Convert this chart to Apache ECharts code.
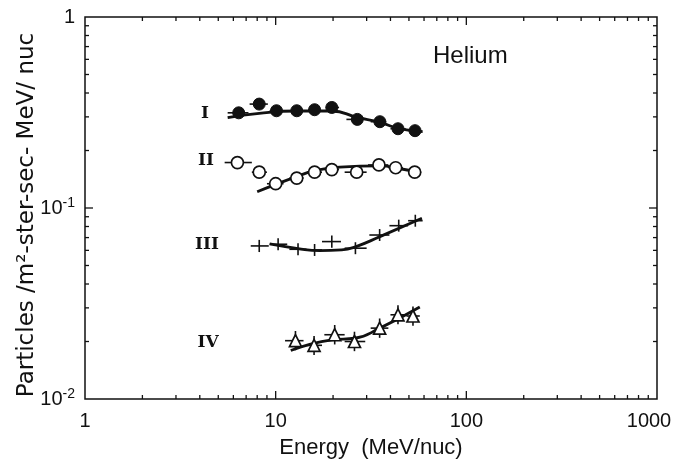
<!DOCTYPE html>
<html><head><meta charset="utf-8">
<script src="https://cdn.jsdelivr.net/npm/echarts@6/dist/echarts.min.js"></script>
<style>html,body{margin:0;padding:0;background:#fff}#c{width:675px;height:460px}</style>
</head><body><div id="c"></div>
<script>
// ---------- data ----------
const xTickValues = [1, 10, 100, 1000];
const xTickLabels = ['1', '10', '100', '{r|1000}'];
const yTickValues = [0.01, 0.1, 1];
const yTickLabels = ['10{s|-2}', '10{s|-1}', '1'];
const xMajorTicks = [10, 100];
const xMinorTicks = [2,3,4,5,6,7,8,9,20,30,40,50,60,70,80,90,200,300,400,500,600,700,800,900];
const yMajorTicks = [0.1];
const yMinorTicks = [0.02,0.03,0.04,0.05,0.06,0.07,0.08,0.09,0.2,0.3,0.4,0.5,0.6,0.7,0.8,0.9];

// Series I (filled circles)
const eI   = [6.4, 8.2, 10.1, 12.9, 16.0, 19.7, 26.8, 35.2, 43.8, 53.8];
const vI   = [0.315, 0.350, 0.323, 0.323, 0.327, 0.336, 0.291, 0.283, 0.260, 0.254];
const eIlo = [5.6, 7.3, 9.3, 12.0, 14.8, 18.3, 23.5, 31.5, 40.0, 50.0];
const eIhi = [7.2, 9.1, 11.0, 13.9, 17.2, 21.5, 30.0, 38.0, 48.0, 58.0];
const fitIE = [5.6, 8.2, 12.9, 19.7, 26.8, 35.2, 43.8, 59];
const fitIV = [0.297, 0.313, 0.322, 0.322, 0.298, 0.281, 0.261, 0.251];

// Series II (open circles)
const eII   = [6.3, 8.2, 10.0, 12.9, 16.0, 19.7, 26.6, 34.8, 42.6, 53.6];
const vII   = [0.173, 0.154, 0.134, 0.1435, 0.154, 0.159, 0.154, 0.168, 0.1625, 0.154];
const eIIlo = [5.4, 7.5, 9.0, 11.8, 14.6, 18.0, 23.0, 30.5, 39.0, 49.5];
const eIIhi = [7.5, 9.0, 11.0, 14.0, 17.5, 21.5, 30.0, 39.0, 46.5, 58.0];
const fitIIE = [8.0, 10.1, 12.9, 16.0, 21.7, 35.2, 45, 57];
const fitIIV = [0.1217, 0.1334, 0.146, 0.1567, 0.1638, 0.166, 0.1605, 0.153];

// Series III (crosses)
const eIII   = [8.2, 10.3, 13.1, 16.0, 19.7, 26.2, 35.1, 44.2, 54.0];
const vIII   = [0.0633, 0.0646, 0.0608, 0.0603, 0.0667, 0.0616, 0.0722, 0.0808, 0.0858];
const eIIIlo = [7.4, 9.3, 11.8, 14.8, 17.5, 23.0, 31.0, 39.5, 49.5];
const eIIIhi = [9.2, 11.5, 14.5, 17.5, 22.0, 30.0, 39.5, 49.5, 59.0];
const vIIIlo = [0.0588, 0.0601, 0.0566, 0.0561, 0.0620, 0.0573, 0.0672, 0.0752, 0.0798];
const vIIIhi = [0.0681, 0.0694, 0.0654, 0.0648, 0.0717, 0.0662, 0.0776, 0.0869, 0.0922];
const fitIIIE = [9.3, 13.1, 17.0, 22.2, 26.4, 35.2, 58.5];
const fitIIIV = [0.0648, 0.0613, 0.0598, 0.0603, 0.0628, 0.0708, 0.0883];

// Series IV (open triangles)
const eIV   = [12.7, 15.9, 20.4, 25.9, 35.1, 43.8, 52.5];
const vIV   = [0.0202, 0.0191, 0.0217, 0.0200, 0.0235, 0.0276, 0.0272];
const eIVlo = [11.2, 14.5, 18.0, 23.0, 31.5, 40.0, 48.5];
const eIVhi = [14.0, 17.5, 23.0, 29.5, 39.0, 48.0, 57.0];
const vIVlo = [0.0180, 0.0170, 0.0193, 0.0178, 0.0209, 0.0246, 0.0242];
const vIVhi = [0.0227, 0.0214, 0.0244, 0.0225, 0.0264, 0.0310, 0.0305];
const fitIVE = [12.0, 19.7, 26.0, 35.2, 57];
const fitIVV = [0.01795, 0.0204, 0.0208, 0.0235, 0.0303];

// ---------- build ----------
const X_MIN = 1, X_MAX = 1000, Y_MIN = 0.01, Y_MAX = 1;
const INK = '#111';
const FONT = 'Liberation Sans';

function zip(a, b) { return a.map((v, i) => [v, b[i]]); }
function errData(e, v, elo, ehi, vlo, vhi) {
  return e.map((x, i) => [x, v[i], elo[i], ehi[i], vlo ? vlo[i] : v[i], vhi ? vhi[i] : v[i]]);
}
const tickData = [].concat(
  xMinorTicks.map(v => [v, Y_MIN, 0]),
  xMajorTicks.map(v => [v, Y_MIN, 1]),
  yMinorTicks.map(v => [X_MIN, v, 2]),
  yMajorTicks.map(v => [X_MIN, v, 3])
);

function lineShape(x1, y1, x2, y2) {
  return { type: 'line', shape: { x1, y1, x2, y2 }, style: { stroke: INK, lineWidth: 1.3 } };
}

function renderTicks(params, api) {
  const k = api.value(2);
  if (k < 2) {
    const v = api.value(0), len = k === 1 ? 8 : 4;
    const b = api.coord([v, Y_MIN]), t = api.coord([v, Y_MAX]);
    return { type: 'group', children: [lineShape(b[0], b[1], b[0], b[1] - len), lineShape(t[0], t[1], t[0], t[1] + len)] };
  } else {
    const v = api.value(1), len = k === 3 ? 8 : 4;
    const l = api.coord([X_MIN, v]), r = api.coord([X_MAX, v]);
    return { type: 'group', children: [lineShape(l[0], l[1], l[0] + len, l[1]), lineShape(r[0], r[1], r[0] - len, r[1])] };
  }
}

function renderErr(params, api) {
  const x = api.value(0), y = api.value(1);
  const a = api.coord([api.value(2), y]), b = api.coord([api.value(3), y]);
  const c = api.coord([x, api.value(4)]), d = api.coord([x, api.value(5)]);
  const st = { stroke: INK, lineWidth: 1.6 };
  const ch = [{ type: 'line', shape: { x1: a[0], y1: a[1], x2: b[0], y2: b[1] }, style: st }];
  if (Math.abs(c[1] - d[1]) > 0.5) ch.push({ type: 'line', shape: { x1: c[0], y1: c[1], x2: d[0], y2: d[1] }, style: st });
  return { type: 'group', children: ch };
}

function fitSeries(e, v) {
  return { type: 'line', data: zip(e, v), smooth: 0.5, symbol: 'none', z: 2,
    lineStyle: { color: INK, width: 2.8 } };
}
function errSeries(data) {
  return { type: 'custom', renderItem: renderErr, data, z: 3, encode: { x: [0, 2, 3], y: [1, 4, 5] } };
}
const romanStyle = { fontFamily: 'DejaVu Serif', fontWeight: 'bold', fontSize: 17, fill: INK, align: 'center', verticalAlign: 'middle' };

const chart = echarts.init(document.getElementById('c'), null, { renderer: 'canvas' });
chart.setOption({
  animation: false,
  backgroundColor: '#fff',
  grid: { left: 85, top: 17, right: 18, bottom: 61, containLabel: false, outerBoundsMode: 'none',
    show: true, borderColor: INK, borderWidth: 1.5, backgroundColor: 'transparent' },
  xAxis: {
    type: 'log', logBase: 10, min: X_MIN, max: X_MAX,
    name: 'Energy  (MeV/nuc)', nameLocation: 'middle', nameGap: 38,
    nameTextStyle: { fontFamily: FONT, fontSize: 22, color: INK },
    axisLine: { show: false }, axisTick: { show: false }, splitLine: { show: false },
    axisLabel: { margin: 12, fontFamily: FONT, fontSize: 20, color: INK, hideOverlap: false,
      rich: { r: { fontFamily: FONT, fontSize: 20, color: INK, padding: [0, 16, 0, 0] } },
      formatter: v => { const i = xTickValues.findIndex(t => Math.abs(Math.log10(t) - Math.log10(v)) < 1e-6); return i >= 0 ? xTickLabels[i] : ''; } }
  },
  yAxis: {
    type: 'log', logBase: 10, min: Y_MIN, max: Y_MAX,
    axisLine: { show: false }, axisTick: { show: false }, splitLine: { show: false },
    axisLabel: { margin: 10, fontFamily: FONT, fontSize: 20, color: INK,
      formatter: v => { const i = yTickValues.findIndex(t => Math.abs(Math.log10(t) - Math.log10(v)) < 1e-6); return i >= 0 ? yTickLabels[i] : ''; },
      rich: { s: { fontFamily: FONT, fontSize: 14, color: INK, verticalAlign: 'bottom', padding: [0, 0, 10, 0] } } }
  },
  graphic: [
    { type: 'text', x: 27, y: 215, rotation: Math.PI / 2,
      style: { text: 'Particles /m²-ster-sec- MeV/ nuc', fontFamily: 'DejaVu Sans', fontSize: 23, fill: INK, align: 'center', verticalAlign: 'middle' } },
    { type: 'text', x: 433, y: 56, style: { text: 'Helium', fontFamily: FONT, fontSize: 24, fill: INK, verticalAlign: 'middle' } },
    { type: 'text', x: 205, y: 114, style: Object.assign({ text: 'I' }, romanStyle) },
    { type: 'text', x: 206, y: 161, style: Object.assign({ text: 'II' }, romanStyle) },
    { type: 'text', x: 207, y: 245, style: Object.assign({ text: 'III' }, romanStyle) },
    { type: 'text', x: 208, y: 343, style: Object.assign({ text: 'IV' }, romanStyle) }
  ],
  series: [
    { type: 'custom', renderItem: renderTicks, data: tickData, z: 1, encode: { x: 0, y: 1 } },
    fitSeries(fitIE, fitIV), fitSeries(fitIIE, fitIIV), fitSeries(fitIIIE, fitIIIV), fitSeries(fitIVE, fitIVV),
    errSeries(errData(eI, vI, eIlo, eIhi)),
    errSeries(errData(eII, vII, eIIlo, eIIhi)),
    errSeries(errData(eIII, vIII, eIIIlo, eIIIhi, vIIIlo, vIIIhi)),
    errSeries(errData(eIV, vIV, eIVlo, eIVhi, vIVlo, vIVhi)),
    { type: 'scatter', data: zip(eI, vI), symbol: 'circle', symbolSize: 12, z: 4,
      itemStyle: { color: INK, borderColor: INK, borderWidth: 1, opacity: 1 } },
    { type: 'scatter', data: zip(eII, vII), symbol: 'circle', symbolSize: 12, z: 4,
      itemStyle: { color: '#fff', borderColor: INK, borderWidth: 1.7, opacity: 1 } },
    { type: 'scatter', data: zip(eIV, vIV), symbol: 'triangle', symbolSize: 12, z: 4,
      itemStyle: { color: '#fff', borderColor: INK, borderWidth: 1.7, opacity: 1 } }
  ]
});
</script>
</body></html>
